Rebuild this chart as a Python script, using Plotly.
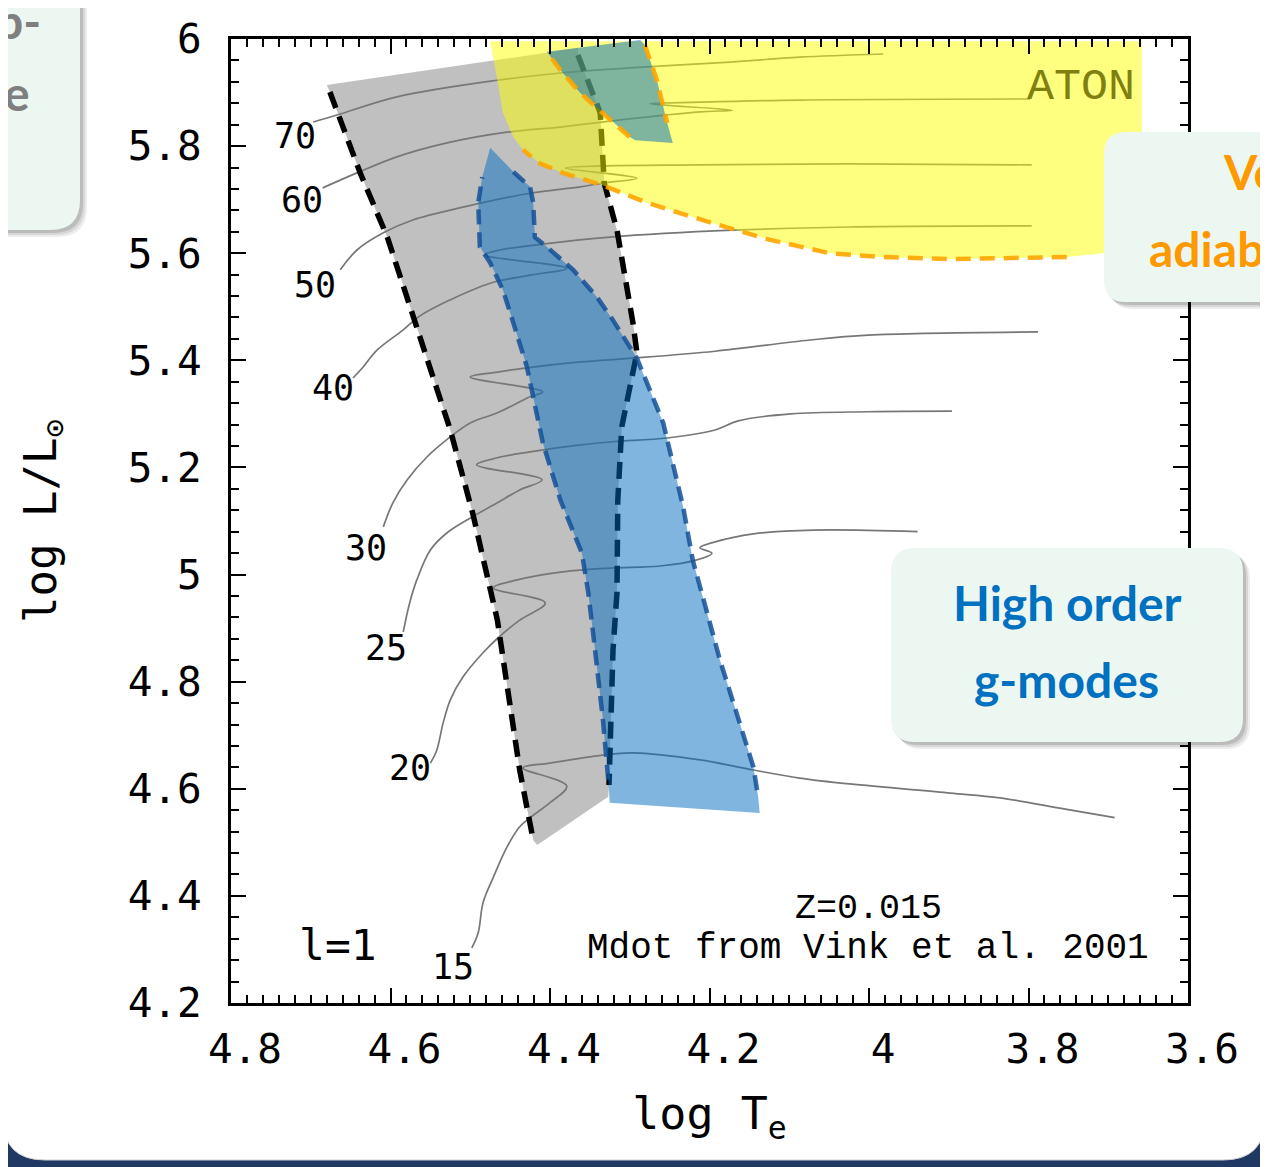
import plotly.graph_objects as go

# ---------------- data (log Te, log L/Lsun) ----------------
x_tick_vals = [4.8, 4.6, 4.4, 4.2, 4.0, 3.8, 3.6]
x_tick_text = ["4.8", "4.6", "4.4", "4.2", "4", "3.8", "3.6"]
y_tick_vals = [6.0, 5.8, 5.6, 5.4, 5.2, 5.0, 4.8, 4.6, 4.4, 4.2]
y_tick_text = ["6", "5.8", "5.6", "5.4", "5.2", "5", "4.8", "4.6", "4.4", "4.2"]

# gray strip: left edge and right edge
gray_left_T = [4.676, 4.638, 4.604, 4.566, 4.525, 4.497, 4.466, 4.438, 4.421]
gray_left_L = [5.901, 5.750, 5.630, 5.457, 5.270, 5.115, 4.915, 4.635, 4.504]
gray_right_T = [4.365, 4.337, 4.332, 4.316, 4.296, 4.291, 4.310, 4.315, 4.316, 4.321, 4.326]
gray_right_L = [5.970, 5.862, 5.731, 5.643, 5.470, 5.414, 5.276, 5.139, 4.966, 4.859, 4.607]
gray_top_T = [4.680, 4.365]
gray_top_L = [5.914, 5.983]
gray_bot_T = [4.327, 4.416]
gray_bot_L = [4.585, 4.495]

# blue region (high order g-modes)
blue_T = [4.475, 4.446, 4.425, 4.421, 4.419, 4.404, 4.371, 4.341, 4.321, 4.291, 4.258,
          4.233, 4.221, 4.187, 4.171, 4.145, 4.139, 4.137, 4.325, 4.327, 4.334, 4.346,
          4.352, 4.360, 4.387, 4.409, 4.429, 4.446, 4.459, 4.475, 4.488, 4.490, 4.485]
blue_L = [5.797, 5.752, 5.724, 5.694, 5.630, 5.612, 5.569, 5.518, 5.475, 5.404, 5.283,
          5.126, 5.027, 4.841, 4.766, 4.641, 4.585, 4.555, 4.574, 4.617, 4.734, 4.891,
          4.966, 5.040, 5.139, 5.246, 5.388, 5.470, 5.531, 5.582, 5.612, 5.694, 5.742]

# upper blue patch (inside ATON region)
top_blue_T = [4.404, 4.287, 4.281, 4.266, 4.253, 4.246, 4.293, 4.300, 4.337, 4.362, 4.387]
top_blue_L = [5.976, 5.998, 5.989, 5.923, 5.843, 5.806, 5.811, 5.817, 5.867, 5.899, 5.942]

# ATON (yellow) region
yellow_T = [4.475, 3.658, 3.658, 3.707, 3.752, 3.823, 3.898, 3.986, 4.049, 4.124, 4.196,
            4.278, 4.334, 4.384, 4.413, 4.434, 4.446, 4.459, 4.466]
yellow_L = [5.996, 5.996, 5.612, 5.600, 5.593, 5.591, 5.589, 5.593, 5.600, 5.625, 5.656,
            5.694, 5.727, 5.750, 5.768, 5.793, 5.817, 5.862, 5.923]

# evolutionary tracks
track_15_T = [4.498, 4.490, 4.484, 4.471, 4.454, 4.438, 4.425, 4.400, 4.379, 4.434, 4.400,
              4.334, 4.296, 4.212, 4.145, 4.087, 4.024, 3.898, 3.836, 3.761, 3.692]
track_15_L = [4.303, 4.331, 4.387, 4.435, 4.491, 4.529, 4.546, 4.574, 4.605, 4.639, 4.648,
              4.663, 4.667, 4.654, 4.635, 4.620, 4.609, 4.592, 4.583, 4.564, 4.546]
track_20_T = [4.550, 4.542, 4.534, 4.525, 4.509, 4.484, 4.465, 4.438, 4.406, 4.471, 4.441,
              4.384, 4.325, 4.262, 4.217, 4.197, 4.212, 4.193, 4.145, 4.069, 3.939]
track_20_L = [4.648, 4.672, 4.723, 4.766, 4.809, 4.854, 4.882, 4.915, 4.947, 4.975, 4.990,
              5.005, 5.012, 5.016, 5.027, 5.040, 5.050, 5.061, 5.076, 5.083, 5.080]
track_25_T = [4.584, 4.576, 4.567, 4.550, 4.529, 4.497, 4.466, 4.438, 4.410, 4.492, 4.466,
              4.425, 4.362, 4.321, 4.253, 4.193, 4.164, 4.098, 4.001, 3.896]
track_25_L = [4.893, 4.947, 4.990, 5.046, 5.078, 5.108, 5.134, 5.158, 5.177, 5.205, 5.218,
              5.229, 5.242, 5.248, 5.255, 5.270, 5.287, 5.300, 5.304, 5.305]
track_30_T = [4.609, 4.597, 4.579, 4.554, 4.525, 4.500, 4.466, 4.425, 4.409, 4.500, 4.466,
              4.429, 4.362, 4.296, 4.193, 4.074, 4.001, 3.788]
track_30_L = [5.089, 5.134, 5.177, 5.220, 5.257, 5.283, 5.302, 5.332, 5.341, 5.369, 5.378,
              5.386, 5.397, 5.404, 5.417, 5.438, 5.447, 5.453]
track_40_T = [4.647, 4.634, 4.617, 4.584, 4.563, 4.525, 4.475, 4.425, 4.379, 4.482, 4.463,
              4.409, 4.325, 4.171, 4.024, 3.796]
track_40_L = [5.367, 5.388, 5.419, 5.457, 5.483, 5.513, 5.544, 5.559, 5.572, 5.597, 5.606,
              5.617, 5.630, 5.643, 5.649, 5.651]
track_50_T = [4.663, 4.642, 4.609, 4.572, 4.509, 4.425, 4.362, 4.334, 4.291, 4.381, 4.337,
              4.212, 4.024, 3.796]
track_50_L = [5.569, 5.606, 5.638, 5.662, 5.686, 5.712, 5.724, 5.731, 5.740, 5.759, 5.763,
              5.765, 5.767, 5.765]
track_60_T = [4.685, 4.642, 4.592, 4.529, 4.454, 4.384, 4.312, 4.212, 4.171, 4.275, 4.212,
              4.087, 3.798]
track_60_L = [5.722, 5.750, 5.780, 5.806, 5.826, 5.836, 5.849, 5.864, 5.867, 5.879, 5.882,
              5.886, 5.888]
track_70_T = [4.697, 4.667, 4.592, 4.466, 4.384, 4.300, 4.174, 4.087, 3.982]
track_70_L = [5.845, 5.858, 5.892, 5.923, 5.937, 5.946, 5.957, 5.966, 5.972]

mass_labels = ["15", "20", "25", "30", "40", "50", "60", "70"]
mass_label_T = [4.522, 4.576, 4.606, 4.631, 4.672, 4.695, 4.711, 4.720]
mass_label_L = [4.267, 4.639, 4.863, 5.050, 5.348, 5.541, 5.699, 5.819]

# ---------------- figure ----------------
W, H = 1268, 1167
OFF = 8                      # page body margin of the html page
REF_L, REF_T, REF_R, REF_B = 231, 39, 1188, 1003   # plot frame in the page
PW, PH = REF_R - REF_L, REF_B - REF_T
ML, MT = REF_L - OFF, REF_T - OFF
MR, MB = W - ML - PW, H - MT - PH
NAVY = "#1f3864"

fig = go.Figure()

# gray strip
gray_poly_T = gray_top_T + gray_right_T + gray_bot_T + gray_left_T[::-1]
gray_poly_L = gray_top_L + gray_right_L + gray_bot_L + gray_left_L[::-1]
fig.add_trace(go.Scatter(x=gray_poly_T, y=gray_poly_L, fill="toself", mode="none",
                         fillcolor="#c0c0c0", hoverinfo="skip"))

# tracks
tracks = [(track_15_T, track_15_L), (track_20_T, track_20_L), (track_25_T, track_25_L),
          (track_30_T, track_30_L), (track_40_T, track_40_L), (track_50_T, track_50_L),
          (track_60_T, track_60_L), (track_70_T, track_70_L)]
for tT, tL in tracks:
    fig.add_trace(go.Scatter(x=tT, y=tL, mode="lines", line=dict(color="#777777", width=1.7),
                             line_shape="spline", hoverinfo="skip"))

# black dashed edges of gray strip
for eT, eL in [(gray_left_T, gray_left_L), (gray_right_T, gray_right_L)]:
    fig.add_trace(go.Scatter(x=eT, y=eL, mode="lines",
                             line=dict(color="black", width=5.5, dash="17px,9px"),
                             hoverinfo="skip"))

# yellow ATON region
fig.add_trace(go.Scatter(x=yellow_T, y=yellow_L, fill="toself", mode="none",
                         fillcolor="rgba(255,255,0,0.5)", hoverinfo="skip"))

# blue regions
for bT, bL in [(blue_T, blue_L), (top_blue_T, top_blue_L)]:
    fig.add_trace(go.Scatter(x=bT, y=bL, fill="toself", mode="none",
                             fillcolor="rgba(0,107,189,0.5)", hoverinfo="skip"))

# blue dashed outlines
for sT, sL in [(blue_T[1:17], blue_L[1:17]), (blue_T[19:33], blue_L[19:33])]:
    fig.add_trace(go.Scatter(x=sT, y=sL, mode="lines",
                             line=dict(color="rgba(20,80,150,0.85)", width=4.5, dash="15px,8px"),
                             hoverinfo="skip"))

# orange dashed outlines
orange_segments = [
    (yellow_T[4:16], yellow_L[4:16]),
    (top_blue_T[2:5], top_blue_L[2:5]),
    (top_blue_T[7:11] + top_blue_T[0:1], top_blue_L[7:11] + top_blue_L[0:1]),
]
for oT, oL in orange_segments:
    fig.add_trace(go.Scatter(x=oT, y=oL, mode="lines",
                             line=dict(color="rgba(255,165,0,0.9)", width=4.5, dash="15px,9px"),
                             hoverinfo="skip"))

# ---------------- text in chart ----------------
ann = []
for lab, tx, ly in zip(mass_labels, mass_label_T, mass_label_L):
    ann.append(dict(x=tx, y=ly, xref="x", yref="y", text=lab, showarrow=False,
                    font=dict(family="DejaVu Sans Mono", size=35, color="black")))
ann.append(dict(x=4.666, y=4.308, xref="x", yref="y", text="l=1", showarrow=False,
                font=dict(family="DejaVu Sans Mono", size=43, color="black")))
ann.append(dict(x=3.734, y=5.910, xref="x", yref="y", text="ATON", showarrow=False,
                font=dict(family="Liberation Mono", size=45, color="#808010")))
ann.append(dict(x=4.001, y=4.376, xref="x", yref="y", text="Z=0.015", showarrow=False,
                font=dict(family="Liberation Mono", size=35, color="black")))
ann.append(dict(x=4.001, y=4.302, xref="x", yref="y", text="Mdot from Vink et al. 2001",
                showarrow=False, font=dict(family="Liberation Mono", size=36, color="black")))


# ---------------- slide decorations (page-pixel helpers) ----------------
def px(x):
    return (x - REF_L) / PW


def py(y):
    return (REF_B - y) / PH


def rrect(x0, y0, x1, y1, r):
    return (f"M {px(x0 + r)},{py(y0)} L {px(x1 - r)},{py(y0)} "
            f"Q {px(x1)},{py(y0)} {px(x1)},{py(y0 + r)} L {px(x1)},{py(y1 - r)} "
            f"Q {px(x1)},{py(y1)} {px(x1 - r)},{py(y1)} L {px(x0 + r)},{py(y1)} "
            f"Q {px(x0)},{py(y1)} {px(x0)},{py(y1 - r)} L {px(x0)},{py(y0 + r)} "
            f"Q {px(x0)},{py(y0)} {px(x0 + r)},{py(y0)} Z")


shapes = []
# white slide panel
shapes.append(dict(type="path", xref="paper", yref="paper", layer="below",
                   path=rrect(3, -80, 1265, 1160, 42), fillcolor="white",
                   line=dict(color="#d0d0d0", width=1)))

MINT = "#edf7f2"


def callout(x0, y0, x1, y1, r):
    out = []
    for off, alpha in [(7, 0.07), (5, 0.09), (3, 0.12)]:
        out.append(dict(type="path", xref="paper", yref="paper", layer="above",
                        path=rrect(x0 + off, y0 + off, x1 + off, y1 + off, r),
                        fillcolor=f"rgba(0,0,0,{alpha})", line=dict(width=0)))
    out.append(dict(type="path", xref="paper", yref="paper", layer="above",
                    path=rrect(x0, y0, x1, y1, r), fillcolor=MINT, line=dict(width=0)))
    return out


shapes += callout(-60, -60, 80, 230, 30)
shapes += callout(1104, 132, 1330, 302, 22)
shapes += callout(891, 548, 1243, 742, 24)

CAL = "Lato"
ann.append(dict(x=px(43), y=py(20), xref="paper", yref="paper", text="<b>p-</b>",
                xanchor="right", yanchor="middle", showarrow=False,
                font=dict(family=CAL, size=48, color="#7f7f7f")))
ann.append(dict(x=px(32), y=py(92), xref="paper", yref="paper", text="<b>ge</b>",
                xanchor="right", yanchor="middle", showarrow=False,
                font=dict(family=CAL, size=48, color="#7f7f7f")))
ann.append(dict(x=px(1221), y=py(172), xref="paper", yref="paper", text="<b>Ve</b>",
                xanchor="left", yanchor="middle", showarrow=False,
                font=dict(family=CAL, size=48, color="#ff9900")))
ann.append(dict(x=px(1147), y=py(248), xref="paper", yref="paper", text="<b>adiab</b>",
                xanchor="left", yanchor="middle", showarrow=False,
                font=dict(family=CAL, size=48, color="#ff9900")))
ann.append(dict(x=px(1067), y=py(603), xref="paper", yref="paper", text="<b>High order</b>",
                xanchor="center", yanchor="middle", showarrow=False,
                font=dict(family=CAL, size=48, color="#0070c0")))
ann.append(dict(x=px(1066), y=py(679), xref="paper", yref="paper", text="<b>g-modes</b>",
                xanchor="center", yanchor="middle", showarrow=False,
                font=dict(family=CAL, size=48, color="#0070c0")))

TICKFONT = dict(family="DejaVu Sans Mono", size=41, color="black")
fig.update_layout(
    width=W, height=H,
    margin=dict(l=ML, r=MR, t=MT, b=MB, autoexpand=False),
    paper_bgcolor=NAVY, plot_bgcolor="white",
    showlegend=False,
    shapes=shapes, annotations=ann,
    xaxis=dict(range=[4.8, 3.6], tickvals=x_tick_vals, ticktext=x_tick_text,
               tickfont=TICKFONT, ticks="inside", ticklen=15, tickwidth=2, tickcolor="black",
               showline=True, linewidth=3, linecolor="black", mirror="ticks",
               showgrid=False, zeroline=False, ticklabelshift=-14, ticklabelstandoff=8,
               minor=dict(ticks="inside", ticklen=8, tickwidth=1.5, tickcolor="black",
                          dtick=0.02, tick0=3.6, showgrid=False),
               title=dict(text="log T<sub>e</sub>",
                          font=dict(family="DejaVu Sans Mono", size=45, color="black"),
                          standoff=26)),
    yaxis=dict(range=[4.2, 6.0], tickvals=y_tick_vals, ticktext=y_tick_text,
               tickfont=TICKFONT, ticks="inside", ticklen=15, tickwidth=2, tickcolor="black",
               showline=True, linewidth=3, linecolor="black", mirror="ticks",
               showgrid=False, zeroline=False, ticklabelstandoff=18,
               minor=dict(ticks="inside", ticklen=8, tickwidth=1.5, tickcolor="black",
                          dtick=0.04, tick0=4.2, showgrid=False),
               title=dict(text="log L/L<sub>\u2299</sub>",
                          font=dict(family="DejaVu Sans Mono", size=44, color="black"),
                          standoff=58)),
)

fig.write_html("out.html")
